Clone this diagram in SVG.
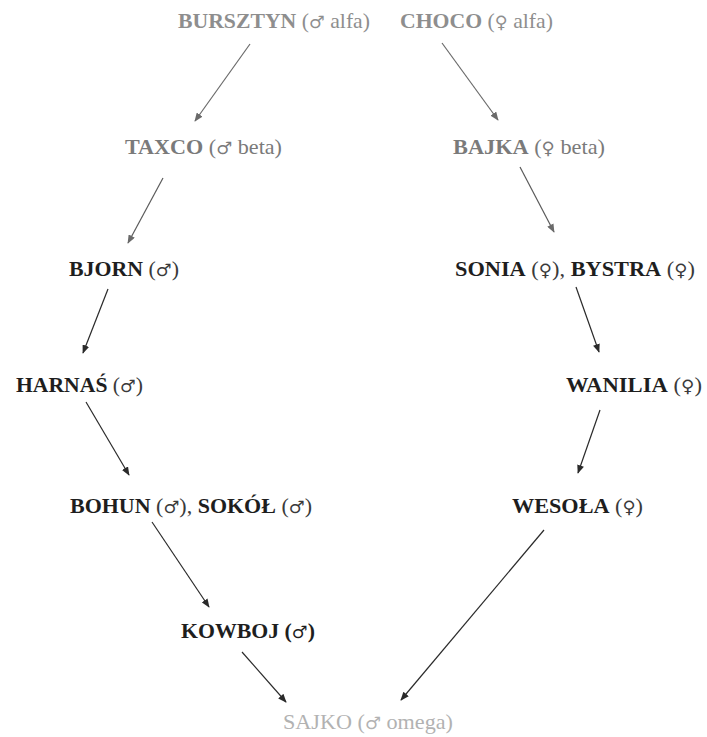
<svg xmlns="http://www.w3.org/2000/svg" width="707" height="737" viewBox="0 0 707 737">
<style>
text{font-family:"Liberation Serif","Times New Roman",serif;font-size:21px}
.n{font-weight:bold}
.p{font-weight:normal}
.s{font-family:"DejaVu Sans",sans-serif;font-size:17px;font-weight:normal}
.alfa{fill:#8e8e8e}
.beta{fill:#7a7a7a}
.mid{fill:#1e1e1e}
.mid .p{fill:#3a3a3a}
.omega{fill:#b2b2b2}
.c line{stroke-width:1.2}
</style>
<defs>
<marker id="ahg" viewBox="0 0 10 8" refX="9" refY="4" markerWidth="9" markerHeight="7" markerUnits="userSpaceOnUse" orient="auto">
<path d="M0,0 L10,4 L0,8 z" fill="#6a6a6a"/>
</marker>
<marker id="ahd" viewBox="0 0 10 8" refX="9" refY="4" markerWidth="9" markerHeight="7" markerUnits="userSpaceOnUse" orient="auto">
<path d="M0,0 L10,4 L0,8 z" fill="#2a2a2a"/>
</marker>
</defs>
<rect width="707" height="737" fill="#ffffff"/>
<g id="connectors" class="c">
<line x1="250" y1="44" x2="195" y2="121" stroke="#6a6a6a" marker-end="url(#ahg)"/>
<line x1="442" y1="43" x2="498" y2="120" stroke="#6a6a6a" marker-end="url(#ahg)"/>
<line x1="163" y1="178" x2="128" y2="243" stroke="#5a5a5a" marker-end="url(#ahg)"/>
<line x1="520" y1="167" x2="554" y2="232" stroke="#5a5a5a" marker-end="url(#ahg)"/>
<line x1="108" y1="289" x2="83" y2="353" stroke="#2a2a2a" marker-end="url(#ahd)"/>
<line x1="576" y1="287" x2="599" y2="352" stroke="#2a2a2a" marker-end="url(#ahd)"/>
<line x1="86" y1="402" x2="129" y2="475" stroke="#2a2a2a" marker-end="url(#ahd)"/>
<line x1="600" y1="410" x2="578" y2="473" stroke="#2a2a2a" marker-end="url(#ahd)"/>
<line x1="152" y1="522" x2="209" y2="607" stroke="#2a2a2a" marker-end="url(#ahd)"/>
<line x1="544" y1="530" x2="401" y2="700" stroke="#2a2a2a" marker-end="url(#ahd)"/>
<line x1="242" y1="652" x2="286" y2="702" stroke="#2a2a2a" marker-end="url(#ahd)"/>
</g>
<g id="bursztyn"><text class="alfa" x="178" y="28" textLength="192" lengthAdjust="spacingAndGlyphs"><tspan class="n">BURSZTYN</tspan><tspan class="p"> (<tspan class="s">♂</tspan> alfa)</tspan></text></g>
<g id="choco"><text class="alfa" x="400" y="28" textLength="153" lengthAdjust="spacingAndGlyphs"><tspan class="n">CHOCO</tspan><tspan class="p"> (<tspan class="s">♀</tspan> alfa)</tspan></text></g>
<g id="taxco"><text class="beta" x="125" y="154" textLength="157" lengthAdjust="spacingAndGlyphs"><tspan class="n">TAXCO</tspan><tspan class="p"> (<tspan class="s">♂</tspan> beta)</tspan></text></g>
<g id="bajka"><text class="beta" x="453" y="154" textLength="152" lengthAdjust="spacingAndGlyphs"><tspan class="n">BAJKA</tspan><tspan class="p"> (<tspan class="s">♀</tspan> beta)</tspan></text></g>
<g id="bjorn"><text class="mid" x="69" y="276" textLength="110" lengthAdjust="spacingAndGlyphs"><tspan class="n">BJORN</tspan><tspan class="p"> (<tspan class="s">♂</tspan>)</tspan></text></g>
<g id="sonia-bystra"><text class="mid" x="455" y="276" textLength="240" lengthAdjust="spacingAndGlyphs"><tspan class="n">SONIA</tspan><tspan class="p"> (<tspan class="s">♀</tspan>), </tspan><tspan class="n">BYSTRA</tspan><tspan class="p"> (<tspan class="s">♀</tspan>)</tspan></text></g>
<g id="harnas"><text class="mid" x="16" y="392" textLength="127" lengthAdjust="spacingAndGlyphs"><tspan class="n">HARNAŚ</tspan><tspan class="p"> (<tspan class="s">♂</tspan>)</tspan></text></g>
<g id="wanilia"><text class="mid" x="566" y="392" textLength="136" lengthAdjust="spacingAndGlyphs"><tspan class="n">WANILIA</tspan><tspan class="p"> (<tspan class="s">♀</tspan>)</tspan></text></g>
<g id="bohun-sokol"><text class="mid" x="70" y="513" textLength="242" lengthAdjust="spacingAndGlyphs"><tspan class="n">BOHUN</tspan><tspan class="p"> (<tspan class="s">♂</tspan>), </tspan><tspan class="n">SOKÓŁ</tspan><tspan class="p"> (<tspan class="s">♂</tspan>)</tspan></text></g>
<g id="wesola"><text class="mid" x="512" y="513" textLength="131" lengthAdjust="spacingAndGlyphs"><tspan class="n">WESOŁA</tspan><tspan class="p"> (<tspan class="s">♀</tspan>)</tspan></text></g>
<g id="kowboj"><text class="mid" x="181" y="638" textLength="134" lengthAdjust="spacingAndGlyphs"><tspan class="n">KOWBOJ (</tspan><tspan class="s">♂</tspan><tspan class="n">)</tspan></text></g>
<g id="sajko"><text class="omega" x="283" y="729" textLength="170" lengthAdjust="spacingAndGlyphs"><tspan class="p">SAJKO (<tspan class="s">♂</tspan> omega)</tspan></text></g>
</svg>
